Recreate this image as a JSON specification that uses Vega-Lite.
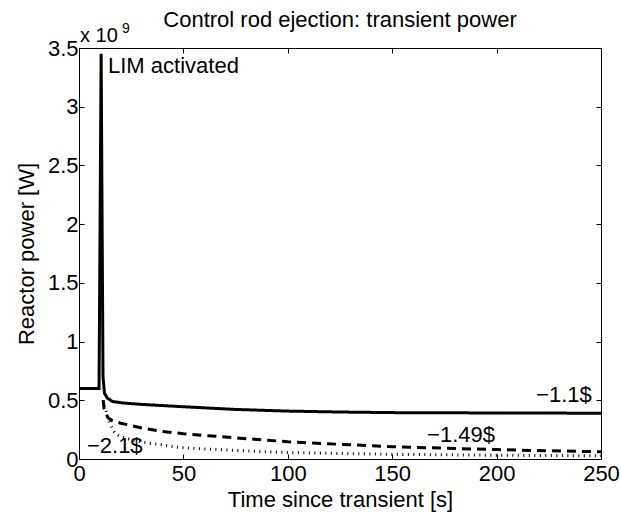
{
  "$schema": "https://vega.github.io/schema/vega-lite/v6.json",
  "width": 522,
  "height": 411,
  "autosize": {"type": "none"},
  "padding": {"left": 79, "top": 48, "right": 20, "bottom": 53},
  "background": "white",
  "title": {
    "text": "Control rod ejection: transient power",
    "fontSize": 22,
    "fontWeight": "normal",
    "font": "Liberation Sans",
    "color": "black",
    "anchor": "middle",
    "frame": "group",
    "baseline": "alphabetic",
    "offset": -27
  },
  "config": {
    "view": {"stroke": null},
    "font": "Liberation Sans",
    "axis": {
      "grid": false,
      "domainColor": "black",
      "domainWidth": 1,
      "tickColor": "black",
      "tickWidth": 1,
      "tickSize": -5,
      "labelFlush": false,
      "labelFont": "Liberation Sans",
      "labelFontSize": 22,
      "labelColor": "black",
      "titleFont": "Liberation Sans",
      "titleFontSize": 22,
      "titleFontWeight": "normal",
      "titleColor": "black"
    }
  },
  "datasets": {
    "curves": [
      {"time_s": 0, "power_W": 6.0e8, "case": "−1.1$"},
      {"time_s": 9.6, "power_W": 6.0e8, "case": "−1.1$"},
      {"time_s": 10.6, "power_W": 3.45e9, "case": "−1.1$"},
      {"time_s": 11.5, "power_W": 7.0e8, "case": "−1.1$"},
      {"time_s": 12.2, "power_W": 5.6e8, "case": "−1.1$"},
      {"time_s": 13.5, "power_W": 5.2e8, "case": "−1.1$"},
      {"time_s": 16, "power_W": 4.9e8, "case": "−1.1$"},
      {"time_s": 21, "power_W": 4.77e8, "case": "−1.1$"},
      {"time_s": 30, "power_W": 4.65e8, "case": "−1.1$"},
      {"time_s": 40, "power_W": 4.55e8, "case": "−1.1$"},
      {"time_s": 50, "power_W": 4.45e8, "case": "−1.1$"},
      {"time_s": 75, "power_W": 4.22e8, "case": "−1.1$"},
      {"time_s": 100, "power_W": 4.08e8, "case": "−1.1$"},
      {"time_s": 125, "power_W": 4.0e8, "case": "−1.1$"},
      {"time_s": 150, "power_W": 3.95e8, "case": "−1.1$"},
      {"time_s": 200, "power_W": 3.92e8, "case": "−1.1$"},
      {"time_s": 250, "power_W": 3.9e8, "case": "−1.1$"},
      {"time_s": 11.6, "power_W": 5.0e8, "case": "−1.49$"},
      {"time_s": 12, "power_W": 4.3e8, "case": "−1.49$"},
      {"time_s": 13, "power_W": 3.8e8, "case": "−1.49$"},
      {"time_s": 14, "power_W": 3.5e8, "case": "−1.49$"},
      {"time_s": 16, "power_W": 3.25e8, "case": "−1.49$"},
      {"time_s": 20, "power_W": 3.05e8, "case": "−1.49$"},
      {"time_s": 25, "power_W": 2.85e8, "case": "−1.49$"},
      {"time_s": 31, "power_W": 2.6e8, "case": "−1.49$"},
      {"time_s": 40, "power_W": 2.35e8, "case": "−1.49$"},
      {"time_s": 50, "power_W": 2.15e8, "case": "−1.49$"},
      {"time_s": 75, "power_W": 1.8e8, "case": "−1.49$"},
      {"time_s": 100, "power_W": 1.47e8, "case": "−1.49$"},
      {"time_s": 125, "power_W": 1.25e8, "case": "−1.49$"},
      {"time_s": 150, "power_W": 1.05e8, "case": "−1.49$"},
      {"time_s": 175, "power_W": 9.2e7, "case": "−1.49$"},
      {"time_s": 200, "power_W": 8.0e7, "case": "−1.49$"},
      {"time_s": 225, "power_W": 7.0e7, "case": "−1.49$"},
      {"time_s": 250, "power_W": 6.2e7, "case": "−1.49$"},
      {"time_s": 11.6, "power_W": 5.0e8, "case": "−2.1$"},
      {"time_s": 12, "power_W": 4.6e8, "case": "−2.1$"},
      {"time_s": 13.5, "power_W": 3.75e8, "case": "−2.1$"},
      {"time_s": 14.5, "power_W": 3.1e8, "case": "−2.1$"},
      {"time_s": 17, "power_W": 2.3e8, "case": "−2.1$"},
      {"time_s": 19, "power_W": 2.0e8, "case": "−2.1$"},
      {"time_s": 22, "power_W": 1.8e8, "case": "−2.1$"},
      {"time_s": 26, "power_W": 1.6e8, "case": "−2.1$"},
      {"time_s": 33, "power_W": 1.36e8, "case": "−2.1$"},
      {"time_s": 40, "power_W": 1.2e8, "case": "−2.1$"},
      {"time_s": 47, "power_W": 1.0e8, "case": "−2.1$"},
      {"time_s": 60, "power_W": 8.5e7, "case": "−2.1$"},
      {"time_s": 85, "power_W": 6.5e7, "case": "−2.1$"},
      {"time_s": 100, "power_W": 5.5e7, "case": "−2.1$"},
      {"time_s": 125, "power_W": 4.7e7, "case": "−2.1$"},
      {"time_s": 150, "power_W": 4.0e7, "case": "−2.1$"},
      {"time_s": 200, "power_W": 3.2e7, "case": "−2.1$"},
      {"time_s": 250, "power_W": 2.7e7, "case": "−2.1$"}
    ],
    "labels": [
      {"time_s": 13.9, "power_W": 3.287e9, "label": "LIM activated"},
      {"time_s": 218.9, "power_W": 4.85e8, "label": "−1.1$"},
      {"time_s": 166.7, "power_W": 1.45e8, "label": "−1.49$"},
      {"time_s": 3.8, "power_W": 5.1e7, "label": "−2.1$"}
    ],
    "exponent": [
      {"time_s": 0.5, "power_W": 3.551e9, "label": "x 10"}
    ],
    "exponent_power": [
      {"time_s": 20.6, "power_W": 3.628e9, "label": "9"}
    ]
  },
  "resolve": {"axis": {"x": "independent", "y": "independent"}},
  "layer": [
    {
      "data": {"name": "curves"},
      "mark": {"type": "line", "strokeWidth": 3, "color": "black", "strokeCap": "butt", "clip": true},
      "encoding": {
        "x": {
          "field": "time_s", "type": "quantitative",
          "scale": {"domain": [0, 250], "nice": false, "zero": false},
          "axis": {"orient": "bottom", "values": [0, 50, 100, 150, 200, 250], "title": "Time since transient [s]", "labelPadding": 9, "titlePadding": 5}
        },
        "y": {
          "field": "power_W", "type": "quantitative",
          "scale": {"domain": [0, 3.5e9], "nice": false, "zero": false},
          "axis": {"orient": "left", "values": [0, 5e8, 1e9, 1.5e9, 2e9, 2.5e9, 3e9, 3.5e9], "labelExpr": "'' + (datum.value / 1e9)", "title": "Reactor power [W]", "labelPadding": 6, "titlePadding": 9}
        },
        "strokeDash": {
          "field": "case", "type": "nominal",
          "scale": {"domain": ["−1.1$", "−1.49$", "−2.1$"], "range": [[1, 0], [9, 6], [1, 4.5]]},
          "legend": null
        }
      }
    },
    {
      "data": {"name": "labels"},
      "mark": {"type": "text", "align": "left", "baseline": "alphabetic", "fontSize": 22, "font": "Liberation Sans", "color": "black"},
      "encoding": {
        "x": {
          "field": "time_s", "type": "quantitative",
          "scale": {"domain": [0, 250], "nice": false, "zero": false},
          "axis": {"orient": "top", "values": [0, 50, 100, 150, 200, 250], "labels": false, "title": null}
        },
        "y": {
          "field": "power_W", "type": "quantitative",
          "scale": {"domain": [0, 3.5e9], "nice": false, "zero": false},
          "axis": {"orient": "right", "values": [0, 5e8, 1e9, 1.5e9, 2e9, 2.5e9, 3e9, 3.5e9], "labels": false, "title": null}
        },
        "text": {"field": "label", "type": "nominal"}
      }
    },
    {
      "data": {"name": "exponent"},
      "mark": {"type": "text", "align": "left", "baseline": "alphabetic", "fontSize": 20, "font": "Liberation Sans", "color": "black"},
      "encoding": {
        "x": {"field": "time_s", "type": "quantitative", "scale": {"domain": [0, 250], "nice": false, "zero": false}, "axis": null},
        "y": {"field": "power_W", "type": "quantitative", "scale": {"domain": [0, 3.5e9], "nice": false, "zero": false}, "axis": null},
        "text": {"field": "label", "type": "nominal"}
      }
    },
    {
      "data": {"name": "exponent_power"},
      "mark": {"type": "text", "align": "left", "baseline": "alphabetic", "fontSize": 14, "font": "Liberation Sans", "color": "black"},
      "encoding": {
        "x": {"field": "time_s", "type": "quantitative", "scale": {"domain": [0, 250], "nice": false, "zero": false}, "axis": null},
        "y": {"field": "power_W", "type": "quantitative", "scale": {"domain": [0, 3.5e9], "nice": false, "zero": false}, "axis": null},
        "text": {"field": "label", "type": "nominal"}
      }
    }
  ]
}
